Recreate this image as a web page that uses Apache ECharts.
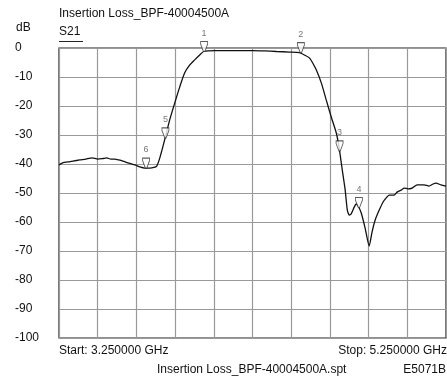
<!DOCTYPE html>
<html>
<head>
<meta charset="utf-8">
<script src="https://cdn.jsdelivr.net/npm/echarts@6/dist/echarts.min.js"></script>
<style>
  html, body { margin: 0; padding: 0; background: #fff; }
  #chart { width: 447px; height: 383px; }
</style>
</head>
<body>
<div id="chart"></div>
<script>
// sweep range (GHz)
const startGHz = 3.25;
const stopGHz = 5.25;

// S21 trace
const freqGHz = [
  3.250, 3.271, 3.296, 3.322, 3.358, 3.389, 3.420, 3.451, 3.477, 3.497,
  3.518, 3.539, 3.559, 3.580, 3.611, 3.642, 3.668, 3.693, 3.719, 3.740,
  3.755, 3.771, 3.796, 3.822, 3.848, 3.874, 3.899, 3.925, 3.951, 3.977,
  3.997, 4.028, 4.054, 4.095, 4.183, 4.250, 4.312, 4.374, 4.441, 4.492,
  4.518, 4.544, 4.564, 4.580, 4.606, 4.631, 4.657, 4.683, 4.698, 4.714,
  4.729, 4.740, 4.750, 4.760, 4.776, 4.786, 4.796, 4.812, 4.832, 4.853,
  4.868, 4.884, 4.905, 4.925, 4.941, 4.956, 4.982, 4.997, 5.018, 5.034,
  5.054, 5.075, 5.101, 5.137, 5.162, 5.183, 5.198, 5.224, 5.250
];
const lossDb = [
  -40.3, -39.5, -39.3, -39.0, -38.6, -38.3, -37.9, -38.3, -38.1, -37.9,
  -38.3, -38.3, -38.6, -39.0, -39.7, -40.3, -41.0, -41.4, -41.4, -41.2,
  -40.7, -37.9, -31.7, -24.8, -19.0, -13.4, -8.6, -5.9, -4.1, -2.4,
  -1.2, -1.0, -0.9, -0.9, -0.9, -0.9, -1.0, -1.2, -1.4, -1.6,
  -2.4, -3.4, -5.5, -7.6, -12.1, -17.9, -23.8, -29.3, -34.5, -42.1,
  -49.0, -55.9, -57.6, -57.2, -54.8, -53.8, -54.5, -56.9, -62.1, -68.3,
  -63.4, -59.3, -55.9, -53.1, -51.7, -50.7, -50.7, -49.7, -49.0, -48.3,
  -48.6, -48.3, -47.2, -47.2, -47.6, -46.9, -46.6, -47.2, -47.6
];

// markers
const markerIds = ['1', '2', '3', '4', '5', '6'];
const markerGHz = [4.0, 4.5, 4.7, 4.8, 3.8, 3.7];
const markerDb = [-1.2, -1.6, -35.5, -55.0, -31.0, -41.4];

// y axis ticks
const yMin = -100;
const yMax = 0;
const yStep = 10;

const font = 'Liberation Sans, Arial, sans-serif';
const txt = { fontFamily: font, fontSize: 12, fontWeight: 'normal', color: '#111' };

const chart = echarts.init(document.getElementById('chart'));

const traceData = freqGHz.map(function (f, i) {
  return [f - startGHz, lossDb[i]];
});
const markerData = markerGHz.map(function (f, i) {
  return { value: [f - startGHz, markerDb[i]], name: markerIds[i] };
});

const options = {
  animation: false,
  backgroundColor: '#fff',
  title: [
    { text: 'Insertion Loss_BPF-40004500A', left: 59, top: 8, padding: 0, textStyle: txt },
    { text: 'dB', left: 16, top: 22, padding: 0, textStyle: txt },
    { text: 'S21', left: 59, top: 26, padding: 0, textStyle: txt },
    { text: 'Start: ' + startGHz.toFixed(6) + ' GHz', left: 59, top: 345, padding: 0, textStyle: txt },
    { text: 'Stop: ' + stopGHz.toFixed(6) + ' GHz', right: 0, top: 345, padding: 0, textStyle: txt },
    { text: 'Insertion Loss_BPF-40004500A.spt', left: 157, top: 364, padding: 0, textStyle: txt },
    { text: 'E5071B', right: 1, top: 364, padding: 0, textStyle: txt }
  ],
  graphic: [
    { type: 'line', shape: { x1: 59, y1: 41.5, x2: 83, y2: 41.5 },
      style: { stroke: '#222', lineWidth: 1 } }
  ],
  grid: {
    left: 59, right: 1, top: 48, bottom: 45,
    show: true, borderColor: '#222', borderWidth: 1.2, backgroundColor: 'transparent'
  },
  xAxis: {
    type: 'value',
    min: 0,
    max: stopGHz - startGHz,
    interval: 0.2,
    axisLine: { show: false },
    axisTick: { show: false },
    axisLabel: { show: false },
    splitLine: { show: true, lineStyle: { color: '#999', width: 1.2 } }
  },
  yAxis: {
    type: 'value',
    min: yMin,
    max: yMax,
    interval: yStep,
    axisLine: { show: false },
    axisTick: { show: false },
    axisLabel: {
      align: 'left', margin: 44,
      fontFamily: font, fontSize: 12, color: '#111'
    },
    splitLine: { show: true, lineStyle: { color: '#999', width: 1.2 } }
  },
  series: [
    {
      name: 'S21',
      type: 'line',
      data: traceData,
      showSymbol: false,
      smooth: 0.2,
      lineStyle: { color: '#111', width: 1.3 },
      z: 3
    },
    {
      name: 'markers',
      type: 'scatter',
      data: markerData,
      symbol: 'path://M0,0 L10,0 L10,3 L6,12 L4,12 L0,3 Z',
      symbolSize: [7, 10],
      symbolOffset: [0, -5],
      itemStyle: { color: '#fff', borderColor: '#333', borderWidth: 1 },
      label: {
        show: true,
        position: 'top',
        distance: 3,
        formatter: function (p) { return p.name; },
        fontFamily: font, fontSize: 9, color: '#555'
      },
      z: 4
    }
  ]
};

chart.setOption(options);
</script>
</body>
</html>
